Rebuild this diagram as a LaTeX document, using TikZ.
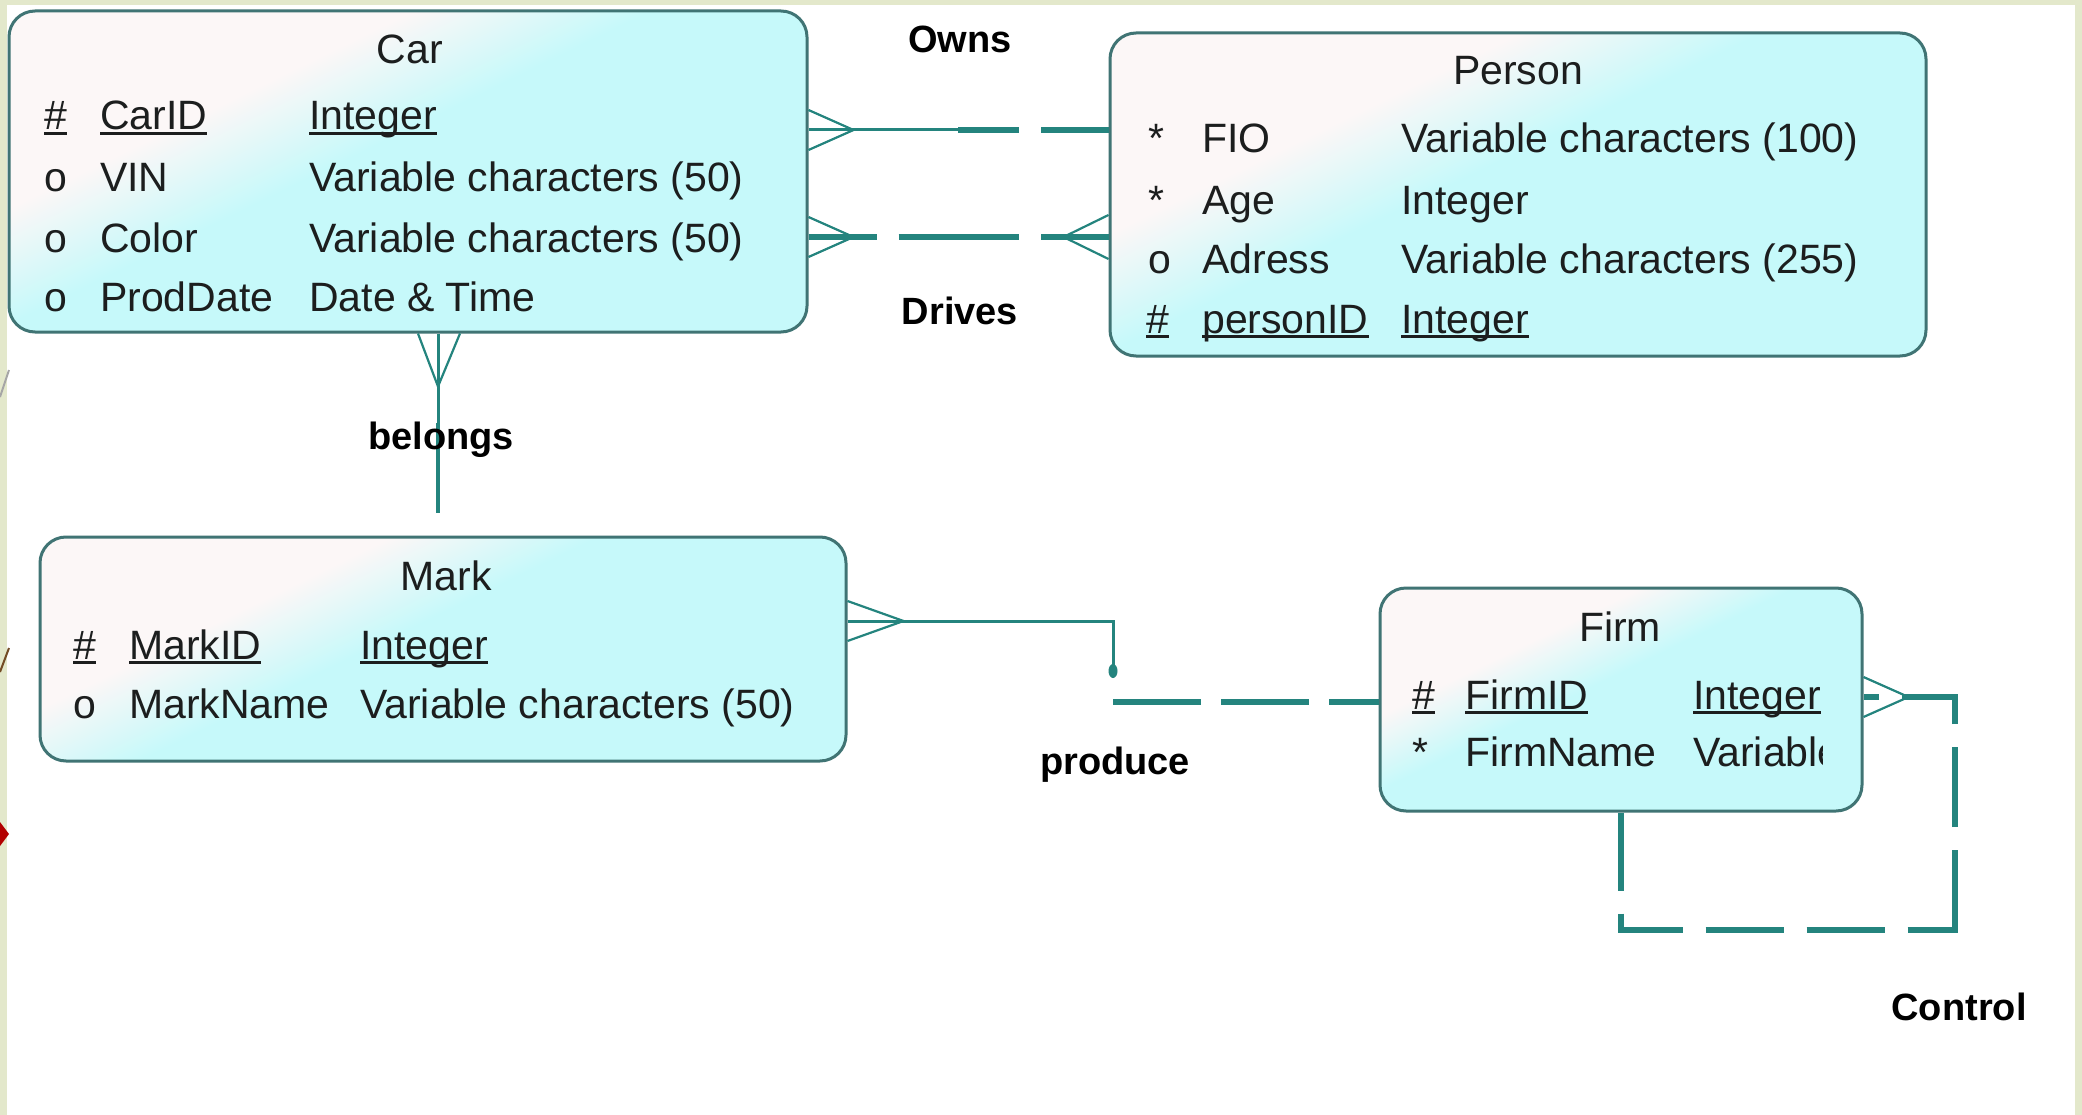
\documentclass[tikz,border=0pt]{standalone}
\usepackage{fontspec}
\setmainfont{Liberation Sans}
\usetikzlibrary{calc}

\definecolor{slidebg}{RGB}{227,232,203}
\definecolor{boxcyan}{RGB}{198,249,250}
\definecolor{glosswhite}{RGB}{252,247,247}
\definecolor{boxedge}{RGB}{64,116,116}
\definecolor{relteal}{RGB}{36,132,126}
\definecolor{ink}{RGB}{28,30,30}

\pgfdeclarehorizontalshading{boxgloss}{100bp}{color(0bp)=(glosswhite); color(35bp)=(glosswhite); color(46bp)=(boxcyan); color(100bp)=(boxcyan)}

% underlined key attribute
\newcommand\keyul[1]{\setbox0\hbox{#1}\rlap{\rule[-5pt]{\wd0}{2.6pt}}\box0}

\tikzset{
  erbox/.style={draw=boxedge, line width=3pt, rounded corners=26pt,
    shading=boxgloss, shading angle=-64, inner sep=0pt},
  cell/.style={anchor=base west, inner sep=0pt, text=ink,
    font=\fontsize{41}{48}\selectfont},
  etitle/.style={anchor=base, inner sep=0pt, text=ink,
    font=\fontsize{41}{48}\selectfont},
  relname/.style={anchor=base, inner sep=0pt, text=black,
    font=\fontsize{38}{44}\selectfont\bfseries},
  crow/.style={draw=relteal, line width=2.2pt},
  thinrel/.style={draw=relteal, line width=3pt},
  thickrel/.style={draw=relteal, line width=6.5pt, dash pattern=on 68pt off 22pt},
}

\begin{document}
\begin{tikzpicture}[x=1pt, y=-1pt]
\useasboundingbox (0,0) rectangle (2082,1115);

% slide background and frame
\fill[white] (0,0) rectangle (2082,1115);
\fill[slidebg] (0,0) rectangle (2082,5);
\fill[slidebg] (0,0) rectangle (7,1115);
\fill[slidebg] (2075,0) rectangle (2082,1115);
\draw[black!35, line width=2pt] (0,397) -- (9,370);
\draw[brown!60!black, line width=2pt] (0,672) -- (9,648);
\fill[red!70!black] (0,822) -- (9,834) -- (0,846) -- cycle;

% entities
\node[erbox, minimum width=798pt, minimum height=321pt] (car) at (408,171.5) {};
\node[erbox, minimum width=816pt, minimum height=323pt] (person) at (1518,194.5) {};
\node[erbox, minimum width=806pt, minimum height=224pt] (mark) at (443,649) {};
\node[erbox, minimum width=482pt, minimum height=223pt] (firm) at (1621,699.5) {};

% Car
\node[etitle] (carT) at (410,64) {Car};
\node[cell] (carS1) at (44,130) {\keyul{\#}};
\node[cell] (carN1) at (100,130) {\keyul{CarID}};
\node[cell] (carY1) at (309,130) {\keyul{Integer}};
\node[cell] (carS2) at (44,192) {o};
\node[cell] (carN2) at (100,192) {VIN};
\node[cell] (carY2) at (309,192) {Variable characters (50)};
\node[cell] (carS3) at (44,253) {o};
\node[cell] (carN3) at (100,253) {Color};
\node[cell] (carY3) at (309,253) {Variable characters (50)};
\node[cell] (carS4) at (44,311) {o};
\node[cell] (carN4) at (100,311) {ProdDate};
\node[cell] (carY4) at (309,311) {Date \& Time};

% Person
\node[etitle] (perT) at (1518,85) {Person};
\node[cell] (perS1) at (1148,153) {*};
\node[cell] (perN1) at (1202,153) {FIO};
\node[cell] (perY1) at (1401,153) {Variable characters (100)};
\node[cell] (perS2) at (1148,215) {*};
\node[cell] (perN2) at (1202,215) {Age};
\node[cell] (perY2) at (1401,215) {Integer};
\node[cell] (perS3) at (1148,274) {o};
\node[cell] (perN3) at (1202,274) {Adress};
\node[cell] (perY3) at (1401,274) {Variable characters (255)};
\node[cell] (perS4) at (1146,333) {\keyul{\#}};
\node[cell] (perN4) at (1202,333) {\keyul{personID}};
\node[cell] (perY4) at (1401,333) {\keyul{Integer}};

% Mark
\node[etitle] (markT) at (446,590) {Mark};
\node[cell] (markS1) at (73,659) {\keyul{\#}};
\node[cell] (markN1) at (129,659) {\keyul{MarkID}};
\node[cell] (markY1) at (360,659) {\keyul{Integer}};
\node[cell] (markS2) at (73,718) {o};
\node[cell] (markN2) at (129,718) {MarkName};
\node[cell] (markY2) at (360,718) {Variable characters (50)};

% Firm
\node[etitle] (firmT) at (1620,641) {Firm};
\node[cell] (firmS1) at (1412,709) {\keyul{\#}};
\node[cell] (firmN1) at (1465,709) {\keyul{FirmID}};
\node[cell] (firmY1) at (1693,709) {\keyul{Integer}};
\node[cell] (firmS2) at (1412,766) {*};
\node[cell] (firmN2) at (1465,766) {FirmName};
\begin{scope}
  \clip (1380,600) rectangle (1822,800);
  \node[cell] (firmY2) at (1693,766) {Variable characters (50)};
\end{scope}

% Owns: Car (many) -- Person
\coordinate (ownsL) at (car.east |- 0,130);
\coordinate (ownsR) at (person.west |- 0,130);
\coordinate (ownsM) at (958,130);
\draw[crow] ($(ownsL)+(0,-20)$) -- ($(ownsL)+(45,0)$) -- ($(ownsL)+(0,20)$);
\draw[thinrel] (ownsL) -- (ownsM);
\draw[thickrel] (ownsR) -- (ownsM);

% Drives: Car (many) -- Person (many)
\coordinate (drL) at (car.east |- 0,237);
\coordinate (drR) at (person.west |- 0,237);
\coordinate (drM) at (958,237);
\draw[crow] ($(drL)+(0,-20)$) -- ($(drL)+(45,0)$) -- ($(drL)+(0,20)$);
\draw[crow] ($(drR)+(0,-22)$) -- ($(drR)+(-45,0)$) -- ($(drR)+(0,22)$);
\draw[thickrel] (drL) -- (drM);
\draw[thickrel] (drR) -- (drM);

% belongs: Car (many) -- Mark
\coordinate (belT) at (car.south -| 438,0);
\coordinate (belB) at ($(belT |- mark.north)+(0,-23)$);
\coordinate (belM) at (438,423);
\draw[crow] ($(belT)+(-20,0)$) -- ($(belT)+(0,53)$) -- ($(belT)+(22,0)$);
\draw[thinrel] (belT) -- (belM);
\draw[draw=relteal, line width=4.5pt] (belM) -- (belB);

% produce: Mark (many) -- Firm
\coordinate (prL) at (mark.east |- 0,621);
\coordinate (prK) at (1113,621);
\coordinate (prD) at (1113,668);
\coordinate (prS) at (1113,702);
\coordinate (prE) at (firm.west |- 0,702);
\draw[crow] ($(prL)+(0,-20)$) -- ($(prL)+(56,0)$) -- ($(prL)+(0,20)$);
\draw[thinrel] (prL) -- (prK) -- (prD);
\fill[relteal] ($(prD)+(0,3)$) ellipse [x radius=4.5pt, y radius=7pt];
\draw[draw=relteal, line width=6.5pt, dash pattern=on 88pt off 20pt] (prS) -- (prE);

% Control: Firm (many) -- Firm
\coordinate (ctE) at (firm.east |- 0,697);
\coordinate (ctC1) at (1955,697);
\coordinate (ctC2) at (1955,930);
\coordinate (ctC3) at (firm.south |- 0,930);
\draw[crow] ($(ctE)+(0,-20)$) -- ($(ctE)+(45,0)$) -- ($(ctE)+(0,20)$);
\draw[draw=relteal, line width=6pt, dash pattern=on 78pt off 23pt]
  (firm.south) -- (ctC3) -- ($(ctC2)+(3,0)$);
\draw[draw=relteal, line width=6pt, dash pattern=on 80pt off 23pt]
  (ctC2) -- (ctC1) -- (ctE);

% relationship names
\node[relname] (lOwns) at (960,53) {Owns};
\node[relname] (lDrives) at (960,324) {Drives};
\node[relname] (lBelongs) at (441,449) {belongs};
\node[relname] (lProduce) at (1115,774) {produce};
\node[relname] (lControl) at (1959,1020) {Control};
\end{tikzpicture}
\end{document}
